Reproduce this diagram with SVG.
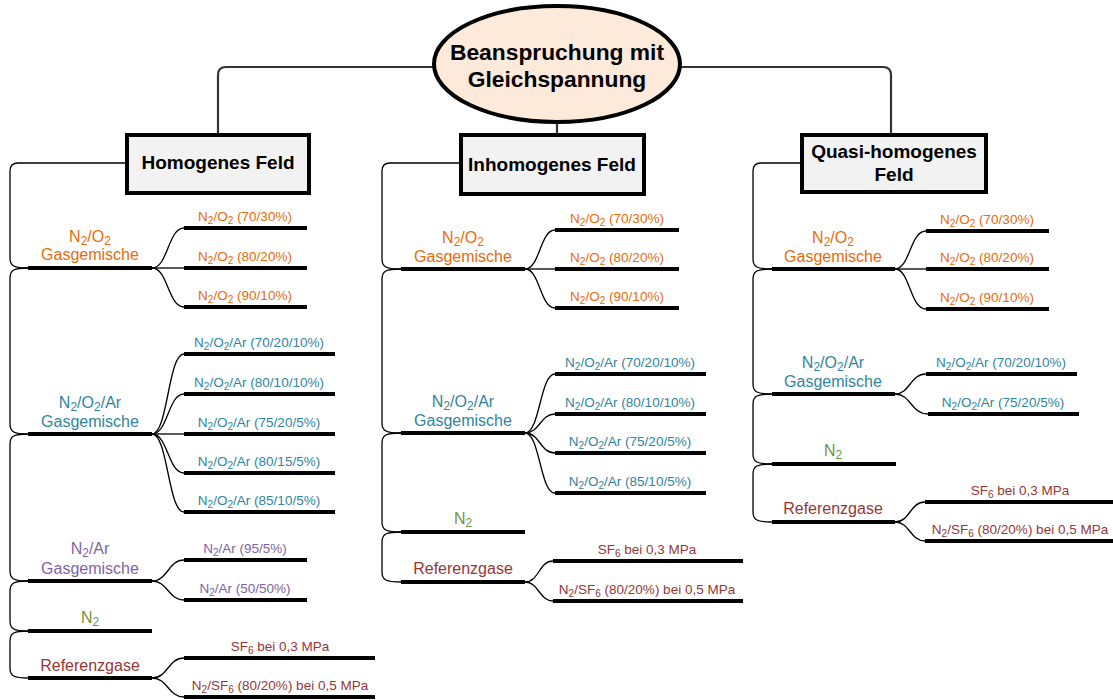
<svg xmlns="http://www.w3.org/2000/svg" width="1113" height="700" viewBox="0 0 1113 700">
<style>
text{font-family:"Liberation Sans",Arial,sans-serif;text-anchor:middle}
.h{font-weight:bold;font-size:19px;fill:#000}
.e{font-weight:bold;font-size:22.8px;fill:#000}
.g{font-size:16px}
.c{font-size:13.5px}
.s{font-size:75%}
.o{fill:#e46c0a}.t{fill:#31859c}.p{fill:#8064a2}.n{fill:#76923c}.r{fill:#953735}
.ul{stroke:#000;stroke-width:4}
.cn{fill:none;stroke:#000;stroke-width:1.3}
.tc{fill:none;stroke:#333;stroke-width:2.2}
.box{fill:#f2f2f2;stroke:#000;stroke-width:4}
</style>
<g id="connectors">
<path class="tc" d="M434,67 H226 Q218,67 218,75 V133"/>
<path class="tc" d="M681,67 H883 Q891,67 891,75 V133"/>
<path class="tc" d="M557,123 V133"/>
<path class="cn" d="M125,163 H18 Q10,163 10,171 V258 C10,266 14,268 28,268"/>
<path class="cn" d="M28,268 C14,268 10,270 10,278 V424 C10,432 14,434 28,434"/>
<path class="cn" d="M28,434 C14,434 10,436 10,444 V571 C10,579 14,581 28,581"/>
<path class="cn" d="M28,581 C14,581 10,583 10,591 V621 C10,629 14,631 28,631"/>
<path class="cn" d="M28,631 C14,631 10,633 10,641 V668 C10,676 14,678 28,678"/>
<path class="cn" d="M152,268 C168,268 168,228 184,228"/>
<path class="cn" d="M152,268 H184"/>
<path class="cn" d="M152,268 C168,268 168,307 184,307"/>
<path class="cn" d="M152,434 C168,434 168,354 184,354"/>
<path class="cn" d="M152,434 C168,434 168,394 184,394"/>
<path class="cn" d="M152,434 H184"/>
<path class="cn" d="M152,434 C168,434 168,473 184,473"/>
<path class="cn" d="M152,434 C168,434 168,512 184,512"/>
<path class="cn" d="M152,581 C168,581 168,560 184,560"/>
<path class="cn" d="M152,581 C168,581 168,600 184,600"/>
<path class="cn" d="M152,678 C168,678 168,658 184,658"/>
<path class="cn" d="M152,678 C168,678 168,697 184,697"/>
<path class="cn" d="M460,163 H390 Q382,163 382,171 V259 C382,267 386,269 401,269"/>
<path class="cn" d="M401,269 C386,269 382,271 382,279 V423 C382,431 386,433 401,433"/>
<path class="cn" d="M401,433 C386,433 382,435 382,443 V522 C382,530 386,532 401,532"/>
<path class="cn" d="M401,532 C386,532 382,534 382,542 V572 C382,580 386,582 401,582"/>
<path class="cn" d="M525,269 C540,269 540,230 555,230"/>
<path class="cn" d="M525,269 H555"/>
<path class="cn" d="M525,269 C540,269 540,308 555,308"/>
<path class="cn" d="M525,433 C540,433 540,374 555,374"/>
<path class="cn" d="M525,433 C540,433 540,414 555,414"/>
<path class="cn" d="M525,433 C540,433 540,453 555,453"/>
<path class="cn" d="M525,433 C540,433 540,493 555,493"/>
<path class="cn" d="M525,582 C539,582 539,561 553,561"/>
<path class="cn" d="M525,582 C539,582 539,601 553,601"/>
<path class="cn" d="M800,163 H761 Q753,163 753,171 V259 C753,267 757,269 772,269"/>
<path class="cn" d="M772,269 C757,269 753,271 753,279 V384 C753,392 757,394 772,394"/>
<path class="cn" d="M772,394 C757,394 753,396 753,404 V454 C753,462 757,464 772,464"/>
<path class="cn" d="M772,464 C757,464 753,466 753,474 V512 C753,520 757,522 772,522"/>
<path class="cn" d="M895,269 C910,269 910,231 926,231"/>
<path class="cn" d="M895,269 H926"/>
<path class="cn" d="M895,269 C910,269 910,309 926,309"/>
<path class="cn" d="M895,394 C910,394 910,374 926,374"/>
<path class="cn" d="M895,394 C911,394 911,414 928,414"/>
<path class="cn" d="M895,522 C910,522 910,502 925,502"/>
<path class="cn" d="M895,522 C910,522 910,541 925,541"/>
</g>

<g id="root">
<ellipse cx="557" cy="64" rx="123" ry="58" fill="#fdeada" stroke="#000" stroke-width="4"/>
<text class="e" x="557" y="60">Beanspruchung mit</text>
<text class="e" x="557" y="87">Gleichspannung</text>
</g>
<g id="homogen">
<rect class="box" x="127" y="135" width="182" height="58"/>
<text class="h" x="218" y="169">Homogenes Feld</text>
</g>
<g id="inhomogen">
<rect class="box" x="461" y="135" width="183" height="59"/>
<text class="h" x="552" y="171">Inhomogenes Feld</text>
</g>
<g id="quasi">
<rect class="box" x="802" y="135" width="184" height="57"/>
<text class="h" x="894" y="158">Quasi-homogenes</text>
<text class="h" x="894" y="181">Feld</text>
</g>

<g id="L-n2o2">
<line class="ul" x1="28" y1="268" x2="152" y2="268"/>
<text class="g o" x="90" y="242">N<tspan class="s" dy="3">2</tspan><tspan dy="-3">/O</tspan><tspan class="s" dy="3">2</tspan></text>
<text class="g o" x="90" y="260">Gasgemische</text>
</g>
<g id="L-n2o2-1"><line class="ul" x1="184" y1="228" x2="307" y2="228"/><text class="c o" x="245" y="221">N<tspan class="s" dy="2.5">2</tspan><tspan dy="-2.5">/O</tspan><tspan class="s" dy="2.5">2</tspan><tspan dy="-2.5"> (70/30%)</tspan></text></g>
<g id="L-n2o2-2"><line class="ul" x1="184" y1="268" x2="307" y2="268"/><text class="c o" x="245" y="261">N<tspan class="s" dy="2.5">2</tspan><tspan dy="-2.5">/O</tspan><tspan class="s" dy="2.5">2</tspan><tspan dy="-2.5"> (80/20%)</tspan></text></g>
<g id="L-n2o2-3"><line class="ul" x1="184" y1="307" x2="307" y2="307"/><text class="c o" x="245" y="300">N<tspan class="s" dy="2.5">2</tspan><tspan dy="-2.5">/O</tspan><tspan class="s" dy="2.5">2</tspan><tspan dy="-2.5"> (90/10%)</tspan></text></g>

<g id="L-n2o2ar">
<line class="ul" x1="28" y1="434" x2="152" y2="434"/>
<text class="g t" x="90" y="408">N<tspan class="s" dy="3">2</tspan><tspan dy="-3">/O</tspan><tspan class="s" dy="3">2</tspan><tspan dy="-3">/Ar</tspan></text>
<text class="g t" x="90" y="427">Gasgemische</text>
</g>
<g id="L-a1"><line class="ul" x1="184" y1="354" x2="335" y2="354"/><text class="c t" x="259" y="347">N<tspan class="s" dy="2.5">2</tspan><tspan dy="-2.5">/O</tspan><tspan class="s" dy="2.5">2</tspan><tspan dy="-2.5">/Ar (70/20/10%)</tspan></text></g>
<g id="L-a2"><line class="ul" x1="184" y1="394" x2="335" y2="394"/><text class="c t" x="259" y="387">N<tspan class="s" dy="2.5">2</tspan><tspan dy="-2.5">/O</tspan><tspan class="s" dy="2.5">2</tspan><tspan dy="-2.5">/Ar (80/10/10%)</tspan></text></g>
<g id="L-a3"><line class="ul" x1="184" y1="434" x2="335" y2="434"/><text class="c t" x="259" y="427">N<tspan class="s" dy="2.5">2</tspan><tspan dy="-2.5">/O</tspan><tspan class="s" dy="2.5">2</tspan><tspan dy="-2.5">/Ar (75/20/5%)</tspan></text></g>
<g id="L-a4"><line class="ul" x1="184" y1="473" x2="335" y2="473"/><text class="c t" x="259" y="466">N<tspan class="s" dy="2.5">2</tspan><tspan dy="-2.5">/O</tspan><tspan class="s" dy="2.5">2</tspan><tspan dy="-2.5">/Ar (80/15/5%)</tspan></text></g>
<g id="L-a5"><line class="ul" x1="184" y1="512" x2="335" y2="512"/><text class="c t" x="259" y="505">N<tspan class="s" dy="2.5">2</tspan><tspan dy="-2.5">/O</tspan><tspan class="s" dy="2.5">2</tspan><tspan dy="-2.5">/Ar (85/10/5%)</tspan></text></g>

<g id="L-n2ar">
<line class="ul" x1="28" y1="581" x2="152" y2="581"/>
<text class="g p" x="90" y="554">N<tspan class="s" dy="3">2</tspan><tspan dy="-3">/Ar</tspan></text>
<text class="g p" x="90" y="574">Gasgemische</text>
</g>
<g id="L-b1"><line class="ul" x1="184" y1="560" x2="307" y2="560"/><text class="c p" x="245" y="553">N<tspan class="s" dy="2.5">2</tspan><tspan dy="-2.5">/Ar (95/5%)</tspan></text></g>
<g id="L-b2"><line class="ul" x1="184" y1="600" x2="307" y2="600"/><text class="c p" x="245" y="593">N<tspan class="s" dy="2.5">2</tspan><tspan dy="-2.5">/Ar (50/50%)</tspan></text></g>

<g id="L-n2">
<line class="ul" x1="28" y1="631" x2="152" y2="631"/>
<text class="g n" x="90" y="623">N<tspan class="s" dy="3">2</tspan></text>
</g>

<g id="L-ref">
<line class="ul" x1="28" y1="678" x2="152" y2="678"/>
<text class="g r" x="90" y="671">Referenzgase</text>
</g>
<g id="L-r1"><line class="ul" x1="184" y1="658" x2="375" y2="658"/><text class="c r" x="280" y="651">SF<tspan class="s" dy="2.5">6</tspan><tspan dy="-2.5"> bei 0,3 MPa</tspan></text></g>
<g id="L-r2"><line class="ul" x1="184" y1="697" x2="375" y2="697"/><text class="c r" x="280" y="690">N<tspan class="s" dy="2.5">2</tspan><tspan dy="-2.5">/SF</tspan><tspan class="s" dy="2.5">6</tspan><tspan dy="-2.5"> (80/20%) bei 0,5 MPa</tspan></text></g>

<g id="M-n2o2">
<line class="ul" x1="401" y1="269" x2="525" y2="269"/>
<text class="g o" x="463" y="243">N<tspan class="s" dy="3">2</tspan><tspan dy="-3">/O</tspan><tspan class="s" dy="3">2</tspan></text>
<text class="g o" x="463" y="262">Gasgemische</text>
</g>
<g id="M-n2o2-1"><line class="ul" x1="555" y1="230" x2="679" y2="230"/><text class="c o" x="617" y="223">N<tspan class="s" dy="2.5">2</tspan><tspan dy="-2.5">/O</tspan><tspan class="s" dy="2.5">2</tspan><tspan dy="-2.5"> (70/30%)</tspan></text></g>
<g id="M-n2o2-2"><line class="ul" x1="555" y1="269" x2="679" y2="269"/><text class="c o" x="617" y="262">N<tspan class="s" dy="2.5">2</tspan><tspan dy="-2.5">/O</tspan><tspan class="s" dy="2.5">2</tspan><tspan dy="-2.5"> (80/20%)</tspan></text></g>
<g id="M-n2o2-3"><line class="ul" x1="555" y1="308" x2="679" y2="308"/><text class="c o" x="617" y="301">N<tspan class="s" dy="2.5">2</tspan><tspan dy="-2.5">/O</tspan><tspan class="s" dy="2.5">2</tspan><tspan dy="-2.5"> (90/10%)</tspan></text></g>

<g id="M-n2o2ar">
<line class="ul" x1="401" y1="433" x2="525" y2="433"/>
<text class="g t" x="463" y="407">N<tspan class="s" dy="3">2</tspan><tspan dy="-3">/O</tspan><tspan class="s" dy="3">2</tspan><tspan dy="-3">/Ar</tspan></text>
<text class="g t" x="463" y="426">Gasgemische</text>
</g>
<g id="M-a1"><line class="ul" x1="555" y1="374" x2="706" y2="374"/><text class="c t" x="630" y="367">N<tspan class="s" dy="2.5">2</tspan><tspan dy="-2.5">/O</tspan><tspan class="s" dy="2.5">2</tspan><tspan dy="-2.5">/Ar (70/20/10%)</tspan></text></g>
<g id="M-a2"><line class="ul" x1="555" y1="414" x2="706" y2="414"/><text class="c t" x="630" y="407">N<tspan class="s" dy="2.5">2</tspan><tspan dy="-2.5">/O</tspan><tspan class="s" dy="2.5">2</tspan><tspan dy="-2.5">/Ar (80/10/10%)</tspan></text></g>
<g id="M-a3"><line class="ul" x1="555" y1="453" x2="706" y2="453"/><text class="c t" x="630" y="446">N<tspan class="s" dy="2.5">2</tspan><tspan dy="-2.5">/O</tspan><tspan class="s" dy="2.5">2</tspan><tspan dy="-2.5">/Ar (75/20/5%)</tspan></text></g>
<g id="M-a4"><line class="ul" x1="555" y1="493" x2="706" y2="493"/><text class="c t" x="630" y="486">N<tspan class="s" dy="2.5">2</tspan><tspan dy="-2.5">/O</tspan><tspan class="s" dy="2.5">2</tspan><tspan dy="-2.5">/Ar (85/10/5%)</tspan></text></g>

<g id="M-n2">
<line class="ul" x1="401" y1="532" x2="525" y2="532"/>
<text class="g n" x="463" y="524">N<tspan class="s" dy="3">2</tspan></text>
</g>

<g id="M-ref">
<line class="ul" x1="401" y1="582" x2="525" y2="582"/>
<text class="g r" x="463" y="574">Referenzgase</text>
</g>
<g id="M-r1"><line class="ul" x1="553" y1="561" x2="743" y2="561"/><text class="c r" x="647" y="554">SF<tspan class="s" dy="2.5">6</tspan><tspan dy="-2.5"> bei 0,3 MPa</tspan></text></g>
<g id="M-r2"><line class="ul" x1="553" y1="601" x2="743" y2="601"/><text class="c r" x="647" y="594">N<tspan class="s" dy="2.5">2</tspan><tspan dy="-2.5">/SF</tspan><tspan class="s" dy="2.5">6</tspan><tspan dy="-2.5"> (80/20%) bei 0,5 MPa</tspan></text></g>

<g id="R-n2o2">
<line class="ul" x1="772" y1="269" x2="895" y2="269"/>
<text class="g o" x="833" y="243">N<tspan class="s" dy="3">2</tspan><tspan dy="-3">/O</tspan><tspan class="s" dy="3">2</tspan></text>
<text class="g o" x="833" y="262">Gasgemische</text>
</g>
<g id="R-n2o2-1"><line class="ul" x1="926" y1="231" x2="1049" y2="231"/><text class="c o" x="987" y="224">N<tspan class="s" dy="2.5">2</tspan><tspan dy="-2.5">/O</tspan><tspan class="s" dy="2.5">2</tspan><tspan dy="-2.5"> (70/30%)</tspan></text></g>
<g id="R-n2o2-2"><line class="ul" x1="926" y1="269" x2="1049" y2="269"/><text class="c o" x="987" y="262">N<tspan class="s" dy="2.5">2</tspan><tspan dy="-2.5">/O</tspan><tspan class="s" dy="2.5">2</tspan><tspan dy="-2.5"> (80/20%)</tspan></text></g>
<g id="R-n2o2-3"><line class="ul" x1="926" y1="309" x2="1049" y2="309"/><text class="c o" x="987" y="302">N<tspan class="s" dy="2.5">2</tspan><tspan dy="-2.5">/O</tspan><tspan class="s" dy="2.5">2</tspan><tspan dy="-2.5"> (90/10%)</tspan></text></g>

<g id="R-n2o2ar">
<line class="ul" x1="772" y1="394" x2="895" y2="394"/>
<text class="g t" x="833" y="368">N<tspan class="s" dy="3">2</tspan><tspan dy="-3">/O</tspan><tspan class="s" dy="3">2</tspan><tspan dy="-3">/Ar</tspan></text>
<text class="g t" x="833" y="387">Gasgemische</text>
</g>
<g id="R-a1"><line class="ul" x1="926" y1="374" x2="1077" y2="374"/><text class="c t" x="1001" y="367">N<tspan class="s" dy="2.5">2</tspan><tspan dy="-2.5">/O</tspan><tspan class="s" dy="2.5">2</tspan><tspan dy="-2.5">/Ar (70/20/10%)</tspan></text></g>
<g id="R-a2"><line class="ul" x1="928" y1="414" x2="1079" y2="414"/><text class="c t" x="1003" y="407">N<tspan class="s" dy="2.5">2</tspan><tspan dy="-2.5">/O</tspan><tspan class="s" dy="2.5">2</tspan><tspan dy="-2.5">/Ar (75/20/5%)</tspan></text></g>

<g id="R-n2">
<line class="ul" x1="772" y1="464" x2="896" y2="464"/>
<text class="g n" x="833" y="456">N<tspan class="s" dy="3">2</tspan></text>
</g>

<g id="R-ref">
<line class="ul" x1="772" y1="522" x2="895" y2="522"/>
<text class="g r" x="833" y="514">Referenzgase</text>
</g>
<g id="R-r1"><line class="ul" x1="925" y1="502" x2="1113" y2="502"/><text class="c r" x="1020" y="495">SF<tspan class="s" dy="2.5">6</tspan><tspan dy="-2.5"> bei 0,3 MPa</tspan></text></g>
<g id="R-r2"><line class="ul" x1="925" y1="541" x2="1113" y2="541"/><text class="c r" x="1020" y="534">N<tspan class="s" dy="2.5">2</tspan><tspan dy="-2.5">/SF</tspan><tspan class="s" dy="2.5">6</tspan><tspan dy="-2.5"> (80/20%) bei 0,5 MPa</tspan></text></g>
</svg>
